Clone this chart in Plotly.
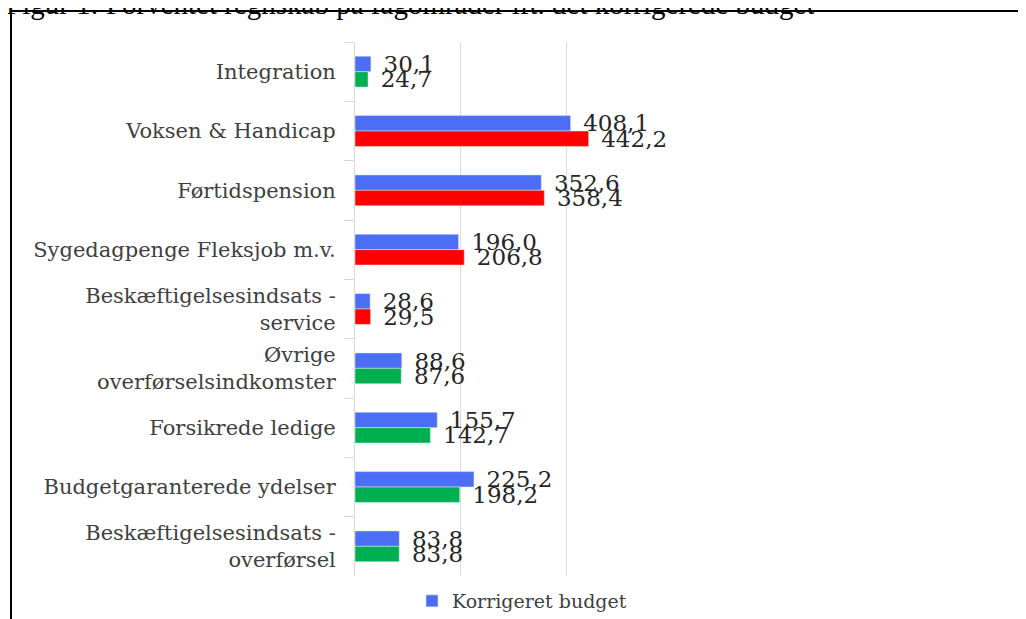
import plotly.graph_objects as go

categories = [
    "Integration",
    "Voksen & Handicap",
    "Førtidspension",
    "Sygedagpenge Fleksjob m.v.",
    "Beskæftigelsesindsats -<br>service",
    "Øvrige<br>overførselsindkomster",
    "Forsikrede ledige",
    "Budgetgaranterede ydelser",
    "Beskæftigelsesindsats -<br>overførsel",
]
korrigeret_budget = [30.1, 408.1, 352.6, 196.0, 28.6, 88.6, 155.7, 225.2, 83.8]
forventet_regnskab = [24.7, 442.2, 358.4, 206.8, 29.5, 87.6, 142.7, 198.2, 83.8]
forventet_farve = ["#00B050", "#FF0000", "#FF0000", "#FF0000", "#FF0000",
                   "#00B050", "#00B050", "#00B050", "#00B050"]
x_ticks = [0, 200, 400, 600]
title_text = "Figur 1: Forventet regnskab på fagområder ift. det korrigerede budget"

def fmt(v):
    return " \u200a" + f"{v:.1f}".replace(".", ",")

# page offset (body margin) compensation
OFF = 8
W, H = 1026 - OFF, 619 - OFF
PL, PR, PT, PB = 355 - OFF, 672 - OFF, 42 - OFF, 576 - OFF
ML, MR, MT, MB = PL, W - PR, PT, H - PB
pw, ph = PR - PL, PB - PT

def px_x(p):
    return (p - OFF - PL) / pw

def px_y(p):
    return (PB - (p - OFF)) / ph

label_font = dict(family="DejaVu Serif", size=23, color="#262626")

fig = go.Figure()
fig.add_trace(go.Bar(
    y=categories, x=korrigeret_budget, orientation="h",
    name="Korrigeret budget", marker_color="#4B6EF5",
    text=[fmt(v) for v in korrigeret_budget], textposition="outside",
    textfont=label_font, constraintext="none", cliponaxis=False,
))
fig.add_trace(go.Bar(
    y=categories, x=forventet_regnskab, orientation="h",
    name="Forventet regnskab", marker_color=forventet_farve, showlegend=False,
    text=[fmt(v) for v in forventet_regnskab], textposition="outside",
    textfont=label_font, constraintext="none", cliponaxis=False,
))

fig.update_layout(
    width=W, height=H,
    margin=dict(l=ML, r=MR, t=MT, b=MB, pad=0, autoexpand=False),
    paper_bgcolor="white", plot_bgcolor="white",
    barmode="group", bargap=0.48, bargroupgap=0,
    font=dict(family="DejaVu Serif", size=21, color="#404040"),
    xaxis=dict(range=[0, 600], tickvals=x_ticks, showticklabels=False,
               showgrid=True, gridcolor="#D9D9D9", gridwidth=1,
               zeroline=False, showline=False),
    yaxis=dict(autorange="reversed", type="category", tickson="boundaries",
               ticks="outside", ticklen=10, tickcolor="#D9D9D9",
               showline=True, linecolor="#D9D9D9", linewidth=1,
               showgrid=False, ticklabelstandoff=14,
               tickfont=dict(family="DejaVu Serif", size=21, color="#404040")),
    legend=dict(orientation="h", x=px_x(412), xanchor="left",
                y=px_y(601), yanchor="middle",
                font=dict(family="DejaVu Serif", size=19, color="#404040"),
                itemwidth=30),
    showlegend=True,
)

fig.add_shape(type="rect", xref="paper", yref="paper",
              x0=px_x(11), x1=px_x(1060), y0=px_y(660), y1=px_y(11),
              line=dict(color="black", width=2), fillcolor="rgba(0,0,0,0)",
              layer="below")

fig.add_annotation(text=title_text, xref="paper", yref="paper",
                   x=px_x(4), xanchor="left", y=px_y(22), yanchor="bottom",
                   showarrow=False,
                   font=dict(family="Liberation Serif", size=29, color="black"))

fig.write_html("out.html")
